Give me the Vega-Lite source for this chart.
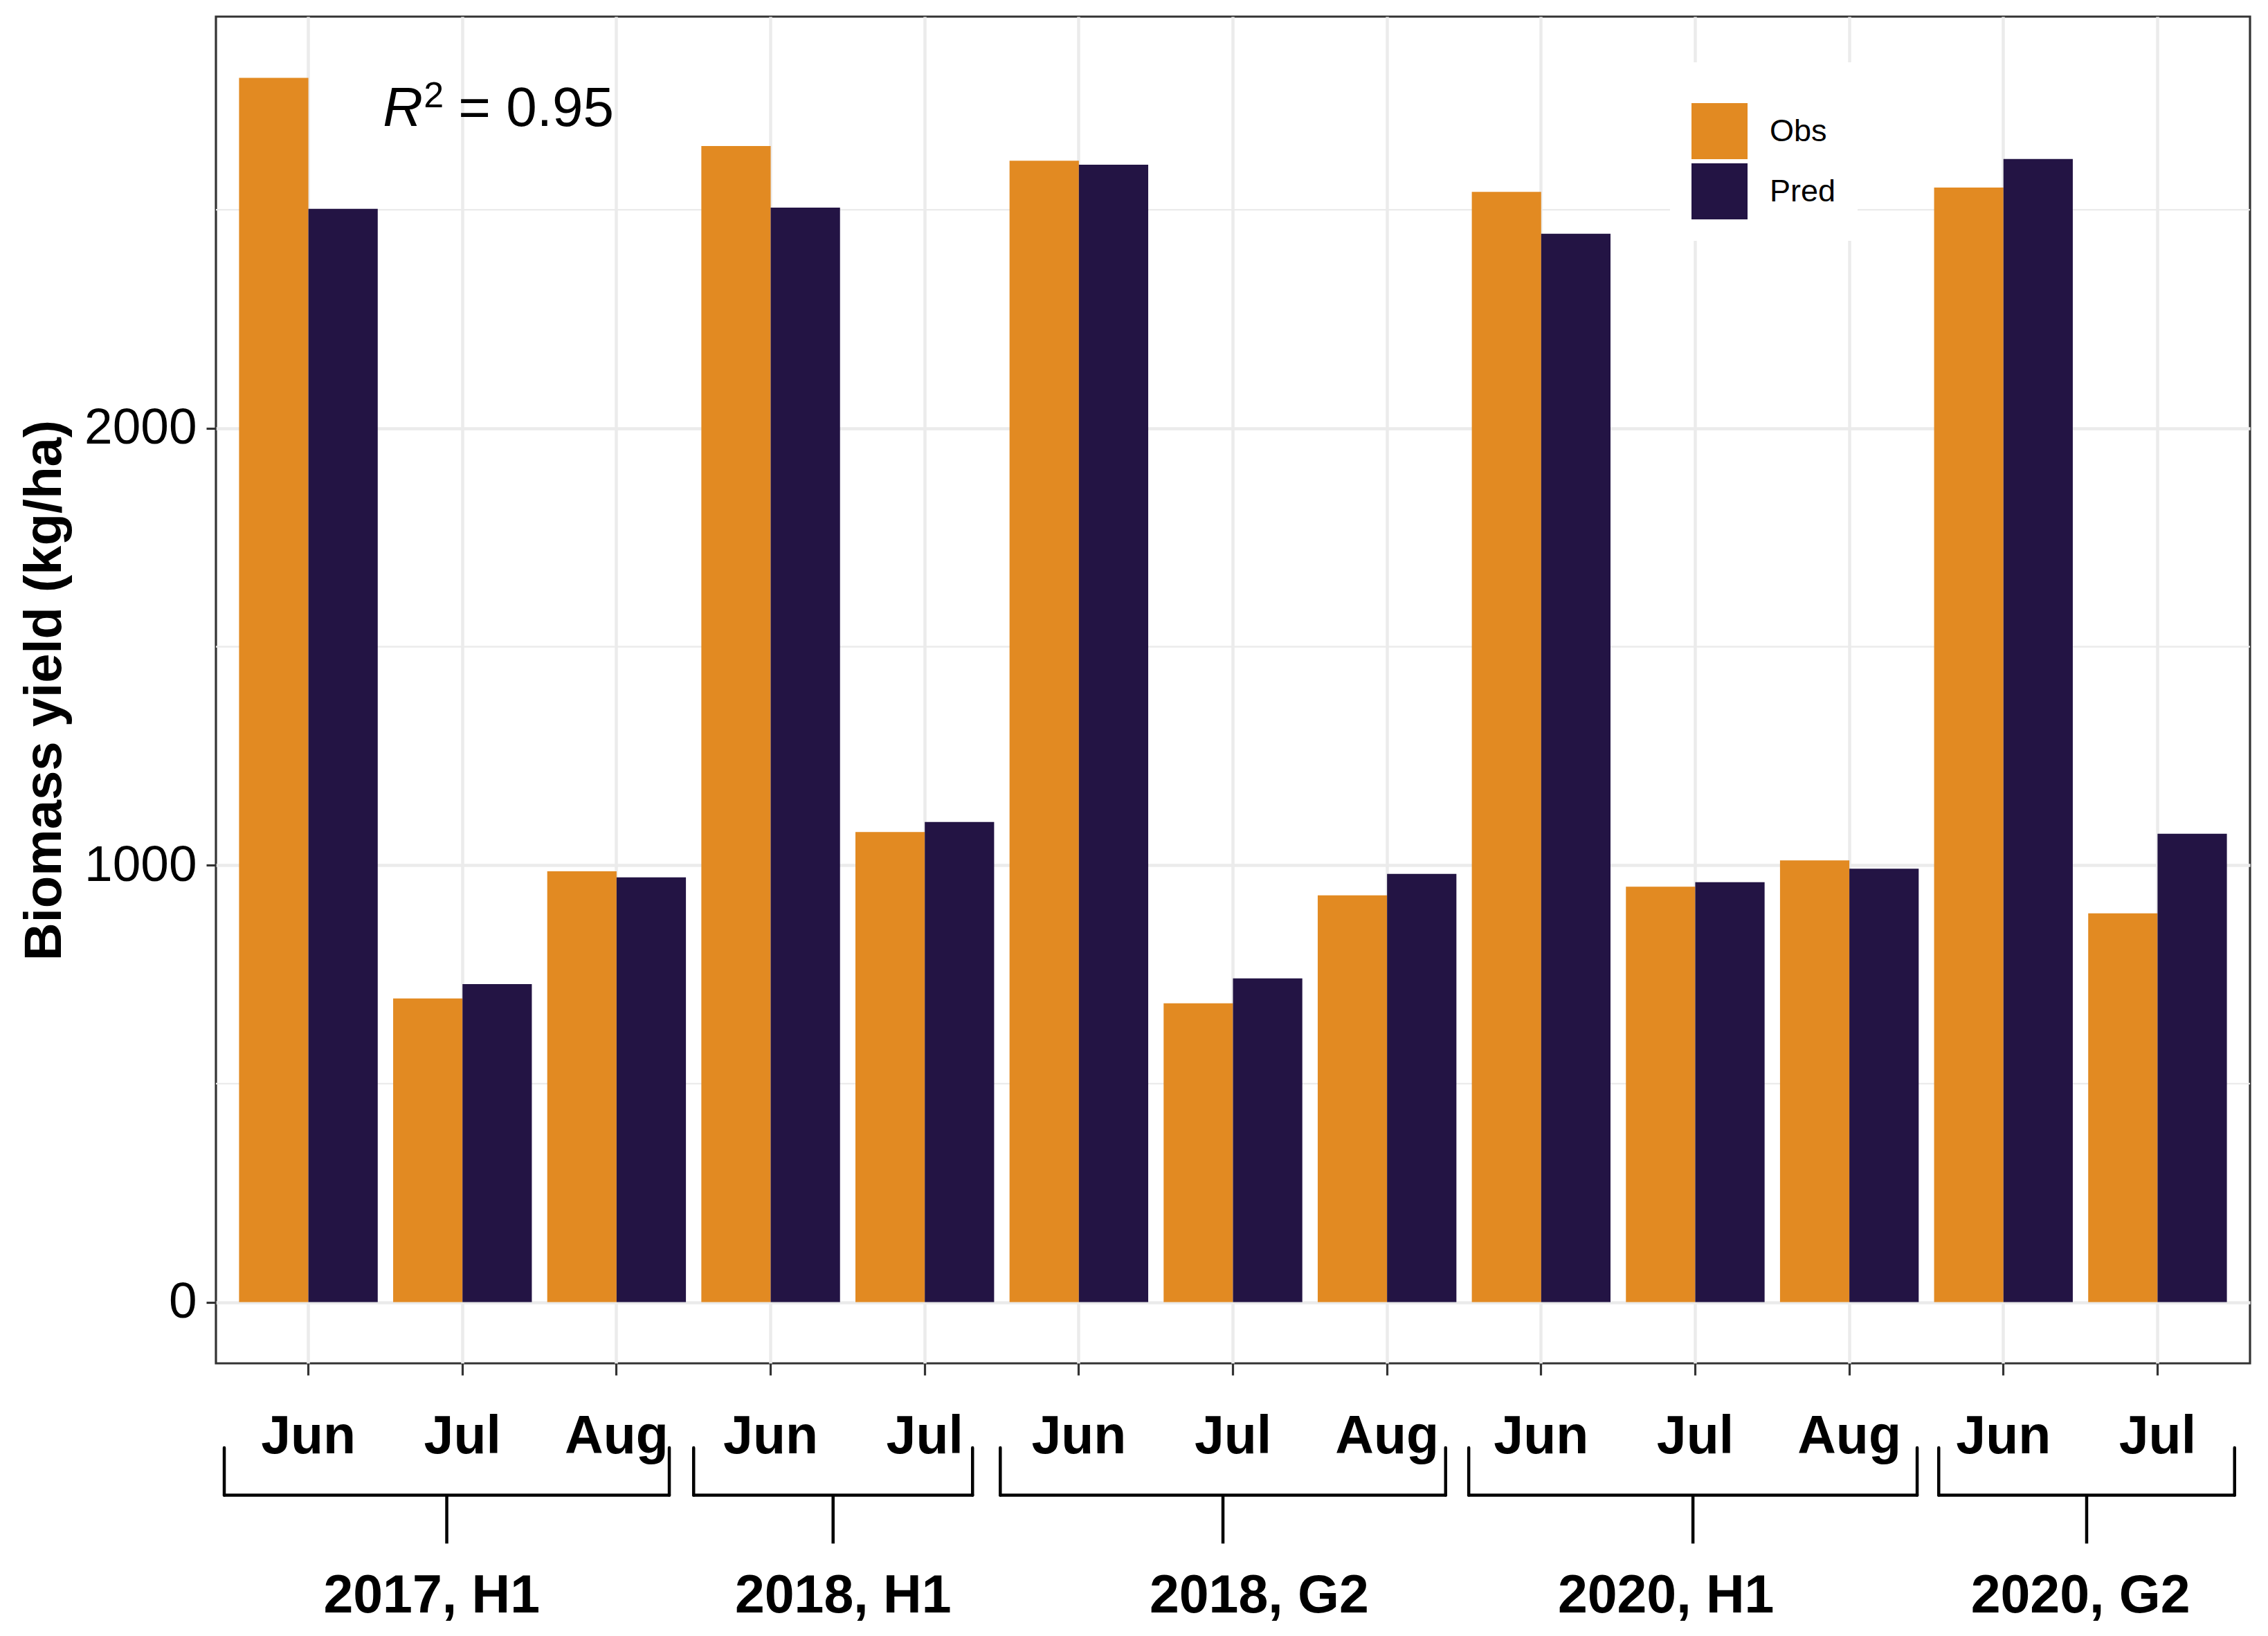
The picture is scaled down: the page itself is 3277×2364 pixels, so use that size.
{
  "$schema": "https://vega.github.io/schema/vega-lite/v6.json",
  "background": "white",
  "padding": {"left": 25, "top": 22, "right": 0, "bottom": 0},
  "config": {
    "font": "Liberation Sans",
    "view": {"stroke": "#333333", "strokeWidth": 3.2},
    "axis": {"labelColor": "black", "titleColor": "black", "domain": false, "tickColor": "#333333", "tickWidth": 3.2, "gridColor": "#EBEBEB", "gridWidth": 4.5}
  },
  "vconcat": [
    {
      "width": 2939,
      "height": 1946,
      "data": {
        "values": [
          {"cat": "2017, H1|Jun", "type": "Obs", "value": 2802},
          {"cat": "2017, H1|Jun", "type": "Pred", "value": 2502},
          {"cat": "2017, H1|Jul", "type": "Obs", "value": 695},
          {"cat": "2017, H1|Jul", "type": "Pred", "value": 728},
          {"cat": "2017, H1|Aug", "type": "Obs", "value": 986},
          {"cat": "2017, H1|Aug", "type": "Pred", "value": 972},
          {"cat": "2018, H1|Jun", "type": "Obs", "value": 2646},
          {"cat": "2018, H1|Jun", "type": "Pred", "value": 2505},
          {"cat": "2018, H1|Jul", "type": "Obs", "value": 1076},
          {"cat": "2018, H1|Jul", "type": "Pred", "value": 1099},
          {"cat": "2018, G2|Jun", "type": "Obs", "value": 2612},
          {"cat": "2018, G2|Jun", "type": "Pred", "value": 2603},
          {"cat": "2018, G2|Jul", "type": "Obs", "value": 684},
          {"cat": "2018, G2|Jul", "type": "Pred", "value": 741},
          {"cat": "2018, G2|Aug", "type": "Obs", "value": 931},
          {"cat": "2018, G2|Aug", "type": "Pred", "value": 980},
          {"cat": "2020, H1|Jun", "type": "Obs", "value": 2541},
          {"cat": "2020, H1|Jun", "type": "Pred", "value": 2445},
          {"cat": "2020, H1|Jul", "type": "Obs", "value": 951},
          {"cat": "2020, H1|Jul", "type": "Pred", "value": 961},
          {"cat": "2020, H1|Aug", "type": "Obs", "value": 1011},
          {"cat": "2020, H1|Aug", "type": "Pred", "value": 992},
          {"cat": "2020, G2|Jun", "type": "Obs", "value": 2551},
          {"cat": "2020, G2|Jun", "type": "Pred", "value": 2616},
          {"cat": "2020, G2|Jul", "type": "Obs", "value": 890},
          {"cat": "2020, G2|Jul", "type": "Pred", "value": 1072}
        ]
      },
      "encoding": {
        "x": {
          "field": "cat",
          "type": "nominal",
          "sort": null,
          "scale": {"paddingInner": 0.1, "paddingOuter": 0.15},
          "axis": {
            "title": null,
            "labelExpr": "split(datum.label, '|')[1]",
            "labelAngle": 0,
            "labelFontSize": 77,
            "labelFontWeight": "bold",
            "labelPadding": 51,
            "tickSize": 17,
            "bandPosition": 0.5,
            "grid": true
          }
        }
      },
      "layer": [
        {
          "data": {"values": [{"minor": 500}, {"minor": 1500}, {"minor": 2500}]},
          "mark": {"type": "rule", "color": "#EBEBEB", "strokeWidth": 2.4},
          "encoding": {
            "x": null,
            "y": {"field": "minor", "type": "quantitative", "title": "Biomass yield (kg/ha)", "scale": {"domain": [-140, 2942], "nice": false, "zero": false}}
          }
        },
        {
          "mark": {"type": "bar"},
          "encoding": {
            "xOffset": {"field": "type", "type": "nominal", "scale": {"paddingInner": 0, "paddingOuter": 0}},
            "y": {
              "field": "value",
              "type": "quantitative",
              "title": "Biomass yield (kg/ha)",
              "scale": {"domain": [-140, 2942], "nice": false, "zero": false},
              "axis": {
                "values": [0, 1000, 2000],
                "format": "d",
                "labelLimit": 400,
                "labelFontSize": 73,
                "labelPadding": 14,
                "tickSize": 14,
                "titleFontSize": 76,
                "titleFontWeight": "bold",
                "titlePadding": 18
              }
            },
            "color": {
              "field": "type",
              "type": "nominal",
              "scale": {"domain": ["Obs", "Pred"], "range": ["#E28A22", "#231444"]},
              "legend": {
                "orient": "none",
                "legendX": 2101,
                "legendY": 66,
                "title": " ",
                "titleFontSize": 20,
                "titlePadding": 8,
                "padding": 31,
                "fillColor": "white",
                "symbolType": "square",
                "symbolSize": 6561,
                "symbolStrokeWidth": 0,
                "symbolOpacity": 1,
                "labelFontSize": 45,
                "labelOffset": 32,
                "labelColor": "black",
                "rowPadding": 6
              }
            }
          }
        },
        {
          "data": {"values": [{"label": "R"}]},
          "mark": {"type": "text", "align": "left", "baseline": "alphabetic", "fontSize": 80, "fontStyle": "italic", "dx": -115, "color": "black"},
          "encoding": {
            "x": {"datum": "2017, H1|Jul"},
            "y": {"datum": 2692, "type": "quantitative"},
            "text": {"field": "label"}
          }
        },
        {
          "data": {"values": [{"label": "2"}]},
          "mark": {"type": "text", "align": "left", "baseline": "alphabetic", "fontSize": 52, "dx": -56, "dy": -27, "color": "black"},
          "encoding": {
            "x": {"datum": "2017, H1|Jul"},
            "y": {"datum": 2692, "type": "quantitative"},
            "text": {"field": "label"}
          }
        },
        {
          "data": {"values": [{"label": "= 0.95"}]},
          "mark": {"type": "text", "align": "left", "baseline": "alphabetic", "fontSize": 80, "dx": -6, "color": "black"},
          "encoding": {
            "x": {"datum": "2017, H1|Jul"},
            "y": {"datum": 2692, "type": "quantitative"},
            "text": {"field": "label"}
          }
        }
      ]
    },
    {
      "width": 2939,
      "height": 300,
      "view": {"stroke": null},
      "data": {
        "values": [
          {"group": "2017, H1", "start": 0.454, "end": 3.342, "mid": 1.898, "labelAt": 1.80},
          {"group": "2018, H1", "start": 3.50, "end": 5.31, "mid": 4.405, "labelAt": 4.47},
          {"group": "2018, G2", "start": 5.49, "end": 8.38, "mid": 6.935, "labelAt": 7.17},
          {"group": "2020, H1", "start": 8.53, "end": 11.44, "mid": 9.985, "labelAt": 9.81},
          {"group": "2020, G2", "start": 11.58, "end": 13.50, "mid": 12.54, "labelAt": 12.50}
        ]
      },
      "layer": [
        {
          "mark": {"type": "rule", "color": "black", "strokeWidth": 4.5, "strokeCap": "round"},
          "encoding": {
            "x": {"field": "start", "type": "quantitative", "scale": {"domain": [0.4, 13.6], "nice": false, "zero": false}, "axis": null},
            "x2": {"field": "end"},
            "y": {"datum": 3.75, "type": "quantitative", "scale": {"domain": [0, 10], "reverse": true, "nice": false}, "axis": null}
          }
        },
        {
          "mark": {"type": "rule", "color": "black", "strokeWidth": 4.5, "strokeCap": "round"},
          "encoding": {
            "x": {"field": "start", "type": "quantitative"},
            "y": {"datum": 1.47, "type": "quantitative"},
            "y2": {"datum": 3.75}
          }
        },
        {
          "mark": {"type": "rule", "color": "black", "strokeWidth": 4.5, "strokeCap": "round"},
          "encoding": {
            "x": {"field": "end", "type": "quantitative"},
            "y": {"datum": 1.47, "type": "quantitative"},
            "y2": {"datum": 3.75}
          }
        },
        {
          "mark": {"type": "rule", "color": "black", "strokeWidth": 4.5},
          "encoding": {
            "x": {"field": "mid", "type": "quantitative"},
            "y": {"datum": 3.75, "type": "quantitative"},
            "y2": {"datum": 6.08}
          }
        },
        {
          "mark": {"type": "text", "align": "center", "baseline": "alphabetic", "fontSize": 77, "fontWeight": "bold", "color": "black"},
          "encoding": {
            "x": {"field": "labelAt", "type": "quantitative"},
            "y": {"datum": 9.4, "type": "quantitative"},
            "text": {"field": "group"}
          }
        }
      ]
    }
  ],
  "spacing": 78,
  "bounds": "flush"
}
